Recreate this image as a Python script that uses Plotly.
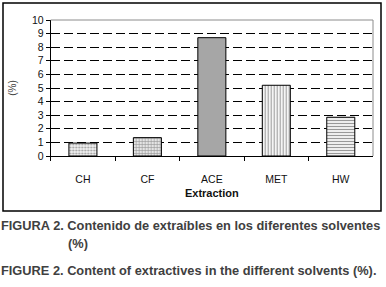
import plotly.graph_objects as go

categories = ["CH", "CF", "ACE", "MET", "HW"]
values = [0.95, 1.35, 8.7, 5.2, 2.85]
patterns = [".", "+", "", "|", "-"]
pattern_fg = ["#bcbcbc", "#a8a8a8", "#a6a6a6", "#bcbcbc", "#b4b4b4"]
bar_colors = ["#f2f2f2", "#e4e4e4", "#a6a6a6", "#f4f4f4", "#eeeeee"]
y_ticks = list(range(0, 11))

W, H = 386, 287
def px(x):
    return x / W
def py(y):
    return 1 - y / H

fig = go.Figure()
fig.add_trace(go.Bar(
    x=categories, y=values, width=0.435,
    marker=dict(
        color=bar_colors,
        line=dict(color="black", width=1),
        pattern=dict(shape=patterns, fgcolor=pattern_fg, bgcolor=bar_colors,
                     size=3, solidity=0.35, fillmode="overlay"),
    ),
    showlegend=False,
))

axis_font = dict(family="Liberation Sans, Arial, sans-serif", size=10.5, color="#111")

fig.update_layout(
    width=W, height=H,
    margin=dict(l=0, r=0, t=0, b=0),
    paper_bgcolor="white", plot_bgcolor="white",
    xaxis=dict(
        domain=[px(50.7), px(373)],
        range=[-0.5, 4.5],
        automargin=False,
        showline=True, linecolor="black", linewidth=1,
        ticks="outside", ticklen=4, tickcolor="black", tickson="boundaries",
        ticklabelstandoff=13,
        tickfont=axis_font,
        showgrid=False,
        title=dict(text="<b>Extraction</b>", font=dict(family="Liberation Sans, Arial, sans-serif", size=11, color="#111"), standoff=5),
    ),
    yaxis=dict(
        domain=[py(156), py(20)],
        range=[0, 10],
        automargin=False,
        tickvals=y_ticks,
        showline=True, linecolor="black", linewidth=1,
        ticks="outside", ticklen=4, tickcolor="black",
        tickfont=axis_font,
        showgrid=True, gridcolor="black", gridwidth=1, griddash="9px,4px",
        zeroline=False,
        title=dict(text="(%)", font=dict(family="Liberation Sans, Arial, sans-serif", size=10, color="#444"), standoff=13),
    ),
)

# gray plot border on top and right
fig.add_shape(type="line", xref="x domain", yref="y domain", x0=0, x1=1, y0=1, y1=1,
              line=dict(color="#8c8c8c", width=1))
fig.add_shape(type="line", xref="x domain", yref="y domain", x0=1, x1=1, y0=0, y1=1,
              line=dict(color="#8c8c8c", width=1))

# outer frame
fig.add_shape(type="rect", xref="paper", yref="paper",
              x0=px(3), x1=px(381), y0=py(211), y1=py(3),
              line=dict(color="black", width=1.5))

cap_font = dict(family="Liberation Sans, Arial, sans-serif", size=12.8, color="#404040")
fig.add_annotation(text="<b>FIGURA 2. Contenido de extraíbles en los diferentes solventes</b>",
                   xref="paper", yref="paper", x=-0.002, y=py(225), xanchor="left", yanchor="middle",
                   showarrow=False, font=cap_font)
fig.add_annotation(text="<b>(%)</b>",
                   xref="paper", yref="paper", x=px(66), y=py(243), xanchor="left", yanchor="middle",
                   showarrow=False, font=cap_font)
fig.add_annotation(text="<b>FIGURE 2. Content of extractives in the different solvents (%).</b>",
                   xref="paper", yref="paper", x=-0.002, y=py(270), xanchor="left", yanchor="middle",
                   showarrow=False, font=cap_font)

fig.write_html("out.html", config={"displayModeBar": False},
               post_script="document.body.style.margin='0';document.body.style.overflow='hidden';")
